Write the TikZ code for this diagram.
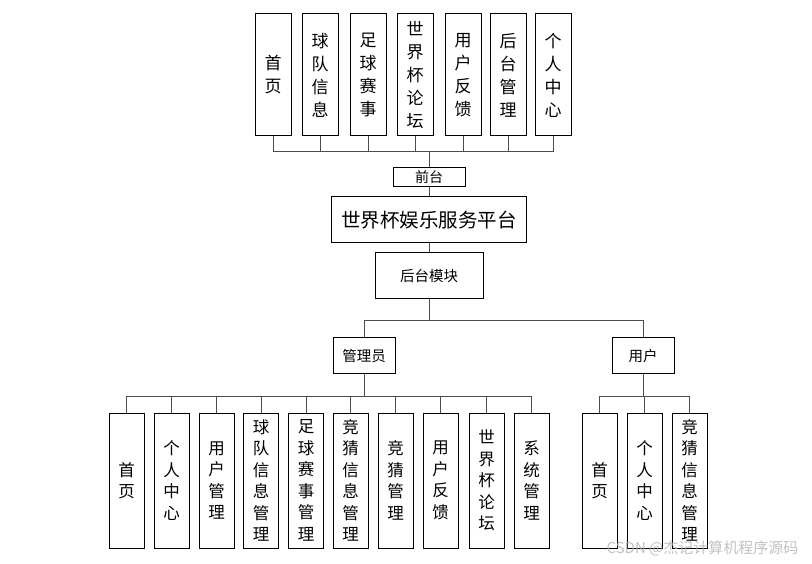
\documentclass[tikz,border=0pt]{standalone}
\usepackage{fontspec}
\newfontfamily\cjk{Noto Sans CJK SC}
\begin{document}
\begin{tikzpicture}[x=1pt,y=-1pt,
 box/.style={draw=black, line width=1pt, fill=white, inner sep=0pt, align=center},
 tbox/.style={box, minimum width=36pt, minimum height=122pt, font=\cjk\fontsize{17}{23}\selectfont},
 bbox/.style={box, minimum width=35pt, minimum height=135pt, font=\cjk\fontsize{16.5}{21.5}\selectfont},
 sbox/.style={box, font=\cjk\fontsize{14.5}{16}\selectfont},
 link/.style={draw=black!70, line width=1pt}]
\useasboundingbox (0,0) rectangle (812,564);
% top row
\node[tbox] (t1) at (273,75) {首\\页};
\node[tbox] (t2) at (320,75) {球\\队\\信\\息};
\node[tbox] (t3) at (368,75) {足\\球\\赛\\事};
\node[tbox] (t4) at (415,75) {世\\界\\杯\\论\\坛};
\node[tbox] (t5) at (463,75) {用\\户\\反\\馈};
\node[tbox] (t6) at (508,75) {后\\台\\管\\理};
\node[tbox] (t7) at (553,75) {个\\人\\中\\心};
% centre column
\node[sbox, minimum width=72pt, minimum height=19pt, font=\cjk\fontsize{14}{15}\selectfont] (qt) at (429,177.5) {前台};
\node[box, minimum width=195pt, minimum height=46pt, font=\cjk\fontsize{19.5}{21}\selectfont] (m) at (429,220) {世界杯娱乐服务平台};
\node[sbox, minimum width=108pt, minimum height=46pt] (hm) at (429,276) {后台模块};
\node[sbox, minimum width=62pt, minimum height=35pt] (gly) at (364,355.5) {管理员};
\node[sbox, minimum width=62pt, minimum height=35pt] (yh) at (643,355.5) {用户};
% admin row
\node[bbox] (a1) at (126.5,480.5) {首\\页};
\node[bbox] (a2) at (171.5,480.5) {个\\人\\中\\心};
\node[bbox] (a3) at (216.5,480.5) {用\\户\\管\\理};
\node[bbox] (a4) at (261,480.5) {球\\队\\信\\息\\管\\理};
\node[bbox] (a5) at (306,480.5) {足\\球\\赛\\事\\管\\理};
\node[bbox] (a6) at (350.5,480.5) {竞\\猜\\信\\息\\管\\理};
\node[bbox] (a7) at (395.5,480.5) {竞\\猜\\管\\理};
\node[bbox] (a8) at (440.5,480.5) {用\\户\\反\\馈};
\node[bbox] (a9) at (486.5,480.5) {世\\界\\杯\\论\\坛};
\node[bbox] (a10) at (531.5,480.5) {系\\统\\管\\理};
% user row
\node[bbox] (u1) at (599.5,480.5) {首\\页};
\node[bbox] (u2) at (644.5,480.5) {个\\人\\中\\心};
\node[bbox] (u3) at (689.5,480.5) {竞\\猜\\信\\息\\管\\理};
% connectors
\coordinate (busT) at (429,152);
\coordinate (busM) at (429,321);
\coordinate (busA) at (364,396);
\coordinate (busU) at (643,396);
\draw[link] (qt.north) -- (busT);
\foreach \i in {1,...,7} \draw[link] (busT) -| (t\i.south);
\draw[link] (qt.south) -- (m.north);
\draw[link] (m.south) -- (hm.north);
\draw[link] (hm.south) -- (busM);
\draw[link] (busM) -| (gly.north);
\draw[link] (busM) -| (yh.north);
\draw[link] (gly.south) -- (busA);
\foreach \i in {1,...,10} \draw[link] (busA) -| (a\i.north);
\draw[link] (yh.south) -- (busU);
\foreach \i in {1,2,3} \draw[link] (busU) -| (u\i.north);
% watermark
\node[text=black!30, opacity=0.8, inner sep=0pt, font=\cjk\fontsize{15}{16}\selectfont] (wm) at (702.5,548) {CSDN @杰记计算机程序源码};
\end{tikzpicture}
\end{document}
